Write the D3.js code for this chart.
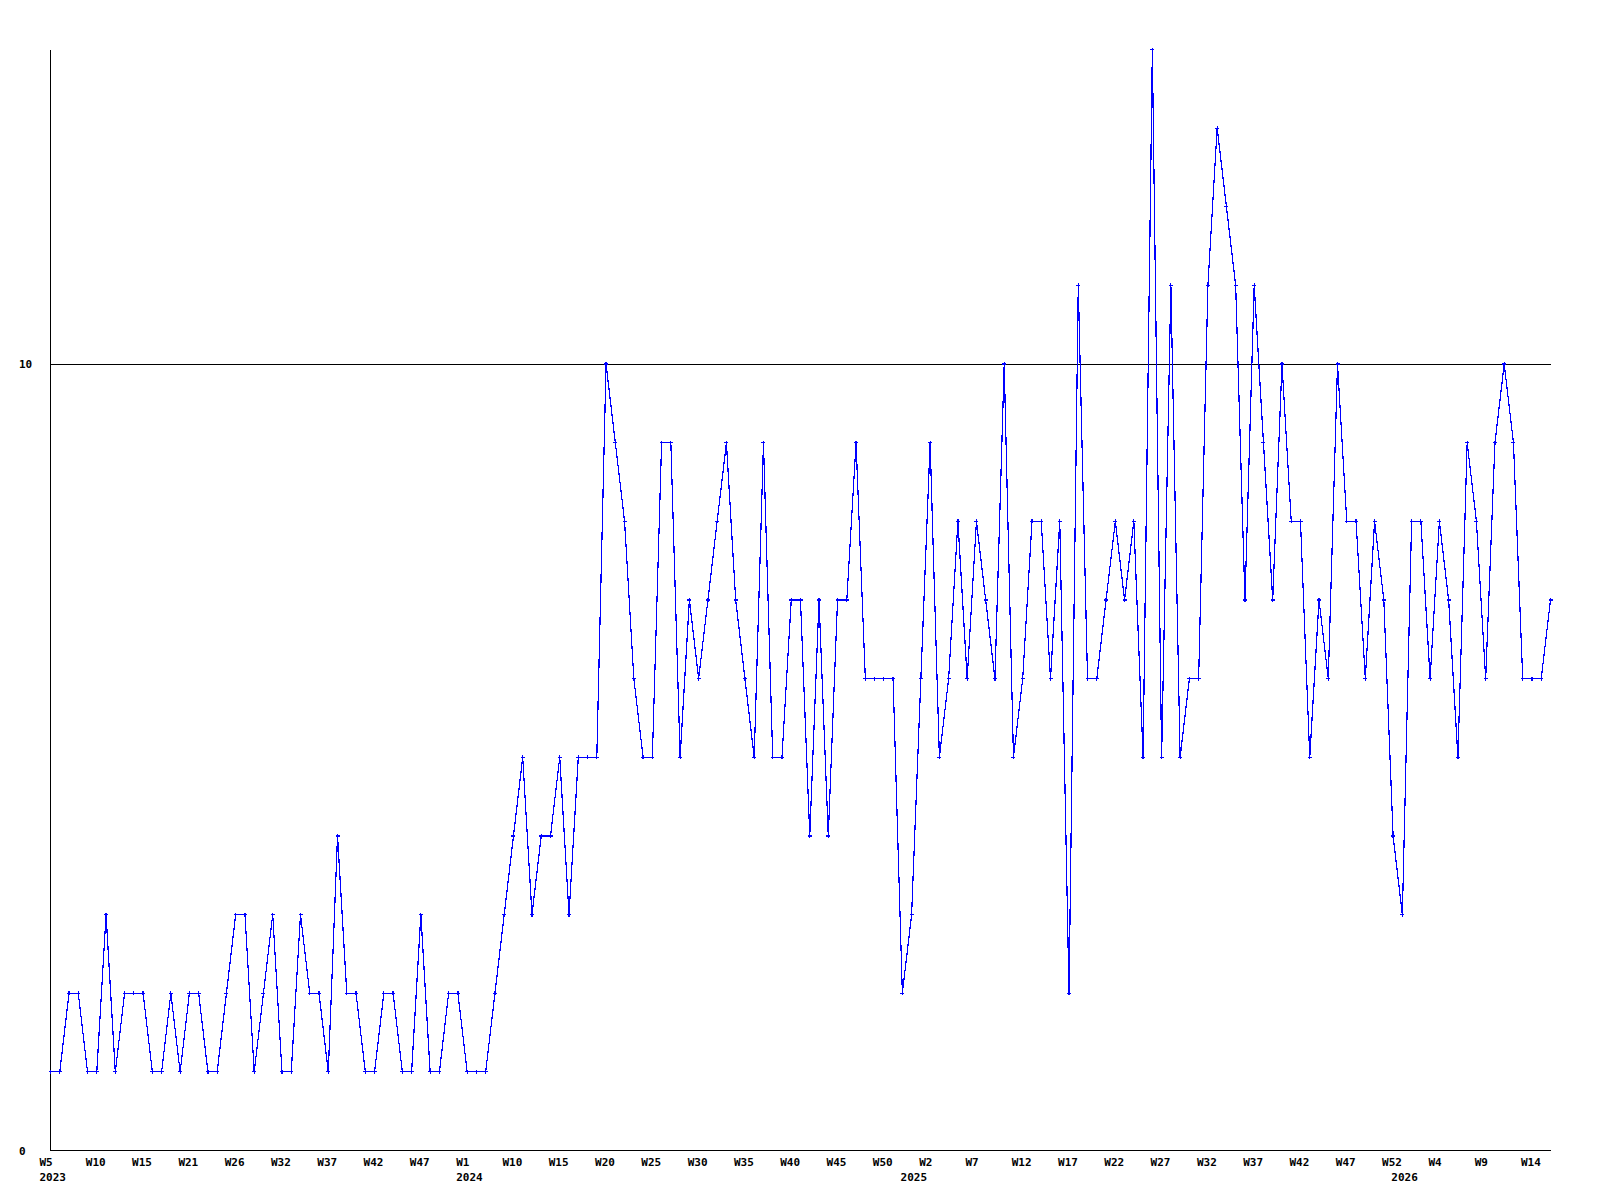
<!DOCTYPE html>
<html>
<head>
<meta charset="utf-8">
<script src="https://cdn.jsdelivr.net/npm/d3@7"></script>
<style>
  html, body { margin: 0; padding: 0; background: #ffffff; }
  svg { display: block; }
  text { font-family: "DejaVu Sans Mono", "Liberation Mono", monospace; font-weight: bold; font-size: 11px; fill: #000; }
</style>
</head>
<body>
<svg id="chart" width="1600" height="1200"></svg>
<script>
// Weekly values, W5 2023 onwards (one entry per plotted point)
const values = [
  1,1,2,2,1,1,3,1,2,2,2,1,1,2,1,2,2,1,1,2,3,3,1,2,3,1,1,3,2,2,1,4,2,2,1,1,2,2,1,1,3,1,1,2,2,1,1,1,2,3,4,5,3,4,4,
  5,3,5,5,5,10,9,8,6,5,5,9,9,5,7,6,7,8,9,7,6,5,9,5,5,7,7,4,7,4,7,7,9,6,6,6,6,2,3,6,9,5,
  6,8,6,8,7,6,10,5,6,8,8,6,8,2,11,6,6,7,8,7,8,5,14,5,11,5,6,6,11,13,12,11,7,
  11,9,7,10,8,8,5,7,6,10,8,8,6,8,7,4,3,8,8,6,8,7,5,9,8,6,9,10,9,6,6,6,7
];
// Week labels, one every 5th point
const tickStep = 5;
const tickLabels = ["W5","W10","W15","W21","W26","W32","W37","W42","W47","W1","W10","W15","W20","W25","W30",
  "W35","W40","W45","W50","W2","W7","W12","W17","W22","W27","W32","W37","W42","W47","W52","W4","W9","W14"];
// Year labels and the point index where each year starts
const yearLabels = ["2023","2024","2025","2026"];
const yearStart = [0, 45, 93, 146];
// Y tick values
const yTicks = [0, 10];
const yMax = 14;

const svg = d3.select("#chart");
const pLeft = 50.5, pRight = 1550.5, pTop = 49.5, pBottom = 1150.5;

const x = d3.scaleLinear().domain([0, values.length - 1]).range([pLeft, pRight]);
const y = d3.scaleLinear().domain([0, yMax]).range([pBottom, pTop]);

// reference line(s) for non-zero ticks
svg.append("g").selectAll("line").data(yTicks.filter(d => d !== 0)).join("line")
  .attr("x1", pLeft).attr("x2", pRight + 0.5)
  .attr("y1", d => Math.round(y(d)) + 0.5).attr("y2", d => Math.round(y(d)) + 0.5)
  .attr("stroke", "#000").attr("stroke-width", 1).attr("shape-rendering", "crispEdges");

// axes lines
svg.append("line").attr("x1", pLeft).attr("x2", pLeft).attr("y1", pTop).attr("y2", pBottom)
  .attr("stroke", "#000").attr("shape-rendering", "crispEdges");
svg.append("line").attr("x1", pLeft).attr("x2", pRight + 0.5).attr("y1", pBottom).attr("y2", pBottom)
  .attr("stroke", "#000").attr("shape-rendering", "crispEdges");

// y tick labels
svg.append("g").selectAll("text").data(yTicks).join("text")
  .attr("x", 19)
  .attr("y", d => Math.round(y(d)) + 4)
  .text(d => d);

// x tick labels
const tickIdx = tickLabels.map((_, i) => i * tickStep);
svg.append("g").selectAll("text").data(tickLabels).join("text")
  .attr("x", (d, i) => x(tickIdx[i]) - 11)
  .attr("y", 1166)
  .text(d => d);

// year labels
svg.append("g").selectAll("text").data(yearLabels).join("text")
  .attr("x", (d, i) => x(yearStart[i]) - 11)
  .attr("y", 1181)
  .text(d => d);

// data line
const line = d3.line().x((d, i) => x(i)).y(d => y(d));
svg.append("path").datum(values)
  .attr("d", line)
  .attr("fill", "none")
  .attr("stroke", "#0000ff")
  .attr("stroke-width", 1.2)
  .attr("shape-rendering", "crispEdges");

// point markers (small plus signs)
const pts = svg.append("g").attr("stroke", "#0000ff").attr("stroke-width", 1.2).attr("shape-rendering", "crispEdges");
pts.selectAll("path").data(values).join("path")
  .attr("d", (d, i) => {
    const cx = x(i), cy = y(d);
    return `M${cx - 2},${cy}H${cx + 2}M${cx},${cy - 2}V${cy + 2}`;
  });
</script>
</body>
</html>
